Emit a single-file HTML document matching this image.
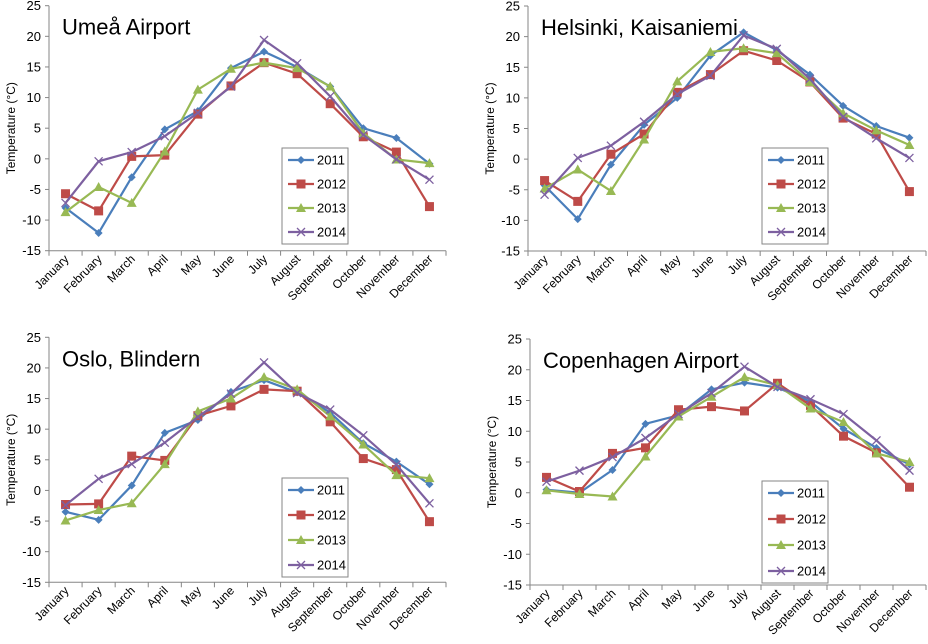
<!DOCTYPE html>
<html><head><meta charset="utf-8"><style>
html,body{margin:0;padding:0;background:#fff;}
svg{display:block;font-family:"Liberation Sans",sans-serif;}
</style></head><body>
<svg id="c" width="928" height="644" viewBox="0 0 928 644"></svg>
<script>
const months = ["January","February","March","April","May","June","July","August","September","October","November","December"];
const years = ["2011","2012","2013","2014"];
const yTicks = [25,20,15,10,5,0,-5,-10,-15];
const stations = ["Umeå Airport","Helsinki, Kaisaniemi","Oslo, Blindern","Copenhagen Airport"];
const umea2011 = [-8,-12.1,-3,4.8,7.8,14.8,17.5,15,11.8,5,3.4,-0.8];
const umea2012 = [-5.7,-8.5,0.4,0.6,7.3,11.9,15.7,13.9,9,3.6,1.1,-7.8];
const umea2013 = [-8.7,-4.6,-7.2,1.2,11.3,14.7,15.7,14.8,11.8,4.2,-0.1,-0.7];
const umea2014 = [-7.2,-0.4,1.1,3.7,7.5,11.8,19.4,15.6,10.2,3.9,-0.1,-3.4];
const hel2011 = [-4.3,-9.8,-0.9,5.6,10,16.9,20.7,17.8,13.8,8.7,5.4,3.5];
const hel2012 = [-3.5,-6.9,0.8,4.1,10.9,13.8,17.7,16.1,12.6,6.7,4.1,-5.3];
const hel2013 = [-4.8,-1.7,-5.2,3.2,12.7,17.5,18.1,17.3,12.6,7.5,4.7,2.3];
const hel2014 = [-5.8,0.2,2.2,6.1,10.6,13.6,20.2,18,13.1,6.9,3.4,0.2];
const oslo2011 = [-3.5,-4.8,0.8,9.4,11.5,16.1,18,16,12.7,7.7,4.7,1];
const oslo2012 = [-2.3,-2.2,5.6,4.9,12.2,13.8,16.5,16.2,11.2,5.2,3.4,-5.1];
const oslo2013 = [-4.9,-3.2,-2.1,4.3,12.9,15,18.5,16.5,12.1,7.5,2.5,2];
const oslo2014 = [-2.4,1.9,4.3,7.8,12,15.8,20.9,15.9,13.2,9,4.2,-2.1];
const cph2011 = [0.5,0,3.7,11.2,12.6,16.8,17.9,17.1,14.8,10.4,7.3,4.6];
const cph2012 = [2.5,0.2,6.4,7.3,13.5,14,13.3,17.8,14.2,9.2,6.5,0.9];
const cph2013 = [0.4,-0.2,-0.6,5.9,12.4,15.6,18.8,17.5,13.7,11.5,6.4,5];
const cph2014 = [1.8,3.6,5.8,8.9,12.8,16.2,20.5,17.2,15.2,12.8,8.5,3.6];
const stationData = [[umea2011,umea2012,umea2013,umea2014],[hel2011,hel2012,hel2013,hel2014],[oslo2011,oslo2012,oslo2013,oslo2014],[cph2011,cph2012,cph2013,cph2014]];

const colors=["#4a7ebb","#be4b48","#98b954","#7d60a0"];
const panels=[{x0:49,x1:446,yt:5.7,yb:250.7,lx:282,ly:148,lh:96},
{x0:528,x1:926,yt:6,yb:251,lx:762,ly:148,lh:96},
{x0:49,x1:446,yt:337.3,yb:582.3,lx:282,ly:478,lh:99},
{x0:530,x1:926,yt:339,yb:585,lx:762,ly:481,lh:102}];
const NS="http://www.w3.org/2000/svg";
const svg=document.getElementById('c');
function mk(t,a,p){const e=document.createElementNS(NS,t);for(const k in a)e.setAttribute(k,a[k]);(p||svg).appendChild(e);return e;}
function marker(g,k,x,y){
  if(k==0){return mk('polygon',{points:`${x},${y-4} ${x+4},${y} ${x},${y+4} ${x-4},${y}`,fill:colors[0]},g);}
  if(k==1){return mk('rect',{x:x-4.5,y:y-4.5,width:9,height:9,fill:colors[1]},g);}
  if(k==2){return mk('polygon',{points:`${x},${y-5} ${x+5},${y+4} ${x-5},${y+4}`,fill:colors[2]},g);}
  const p=mk('path',{d:`M${x-4},${y-4}L${x+4},${y+4}M${x-4},${y+4}L${x+4},${y-4}`,stroke:colors[3],'stroke-width':1.3,fill:'none'},g);return p;
}
panels.forEach((P,pi)=>{
  const g=mk('g',{});
  
  
  const ys=v=>P.yb-(v+15)/40*(P.yb-P.yt);
  const step=(P.x1-P.x0)/12;
  const xs=i=>P.x0+step*(i+0.5);
  const ax=mk('line',{x1:P.x0,y1:P.yt,x2:P.x0,y2:P.yb,stroke:'#868686'},g);
  
  
  const bx=mk('line',{x1:P.x0,y1:P.yb,x2:P.x1,y2:P.yb,stroke:'#868686'},g);
  
  
  yTicks.forEach(t=>{
    mk('line',{x1:P.x0-4,y1:ys(t),x2:P.x0,y2:ys(t),stroke:'#868686'},g);
    const tx=mk('text',{x:P.x0-8,y:ys(t)+4.5,'text-anchor':'end','font-size':13,fill:'#000'},g);
    tx.textContent=t;
    
    
  });
  for(let i=0;i<=12;i++)mk('line',{x1:P.x0+step*i,y1:P.yb,x2:P.x0+step*i,y2:P.yb+5,stroke:'#868686'},g);
  months.forEach((m,i)=>{
    const x=xs(i)+4,y=P.yb+9;
    const tx=mk('text',{x:x,y:y,'text-anchor':'end','font-size':12,transform:`rotate(-45 ${x} ${y})`},g);
    tx.textContent=m;
    
    
  });
  const yl=mk('text',{x:0,y:0,'text-anchor':'middle','font-size':12,transform:`translate(${P.x0-34},${(P.yt+P.yb)/2}) rotate(-90)`},g);
  yl.textContent='Temperature (°C)';
  
  
  const tt=mk('text',{x:P.x0+13,y:P.yt+29,'font-size':22},g);
  tt.textContent=stations[pi];
  
  
  stationData[pi].forEach((arr,k)=>{
    const s=mk('g',{},g);
    
    
    mk('polyline',{points:arr.map((v,i)=>xs(i)+','+ys(v)).join(' '),fill:'none',stroke:colors[k],'stroke-width':2.2},s);
    arr.forEach((v,i)=>marker(s,k,xs(i),ys(v)));
  });
  const lg=mk('g',{},g);
  
  
  mk('rect',{x:P.lx,y:P.ly,width:66,height:P.lh,fill:'#fff',stroke:'#868686'},lg);
  years.forEach((yr,k)=>{
    const y=P.ly+12+k*(P.lh-24)/3;
    const e=mk('g',{},lg);
    
    
    mk('line',{x1:P.lx+6,y1:y,x2:P.lx+32,y2:y,stroke:colors[k],'stroke-width':2.2},e);
    marker(e,k,P.lx+19,y);
    const t=mk('text',{x:P.lx+35,y:y+4.5,'font-size':13},e);
    t.textContent=yr;
  });
});
</script>
</body></html>
